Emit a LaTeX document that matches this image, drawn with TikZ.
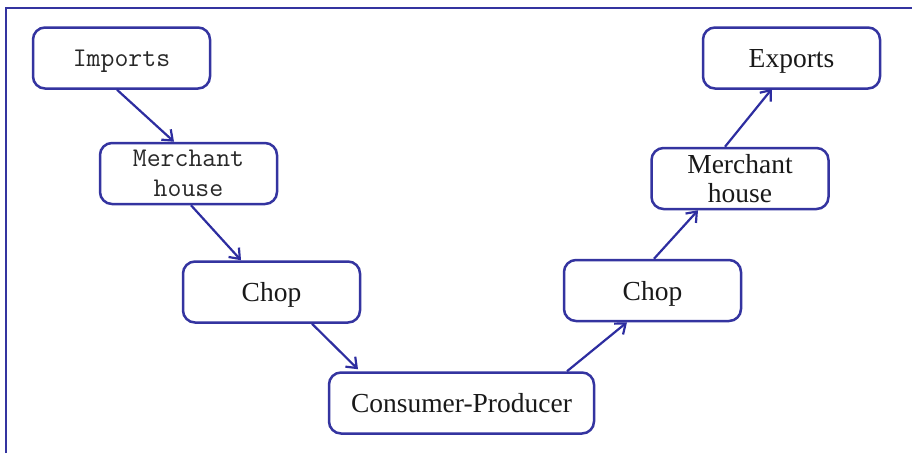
\documentclass[tikz,border=0pt]{standalone}
\usepackage{fontspec}
\setmainfont{Liberation Serif}
\usetikzlibrary{arrows.meta}
\definecolor{boxblue}{RGB}{52,52,160}
\definecolor{arrblue}{RGB}{45,45,160}
\definecolor{txt}{RGB}{25,25,25}
\definecolor{monotxt}{RGB}{40,40,40}
\tikzset{
  stage/.style={draw=boxblue, line width=2.5pt, rounded corners=12pt, fill=white,
    minimum width=177pt, minimum height=61pt, inner sep=0pt, align=center,
    text=txt, font=\fontsize{27.5}{29}\selectfont},
  single/.style={text depth=0pt},
  monostage/.style={stage, text=monotxt, font=\ttfamily\fontsize{27}{30}\selectfont},
  flow/.style={draw=arrblue, line width=2.2pt, -{Straight Barb[length=9pt,width=14pt,line width=2.2pt]}},
  frameline/.style={draw=boxblue, line width=2.8pt}
}
\begin{document}
\begin{tikzpicture}[x=1pt,y=-1pt]
\useasboundingbox (0,0) rectangle (912,453);
\fill[white] (0,0) rectangle (912,453);
\draw[frameline] (6,453) -- (6,8) -- (912,8);
\node[monostage, single] (imp) at (121.5,58) {Imports};
\node[monostage] (mh1) at (188.5,173.5) {Merchant\\house};
\node[stage, single] (ch1) at (271.5,292) {Chop};
\node[stage, single, minimum width=265pt] (cp) at (461.5,403) {Consumer-Producer};
\node[stage, single] (ch2) at (652.5,290.5) {Chop};
\node[stage] (mh2) at (740,178.5) {Merchant\\house};
\node[stage, single] (exp) at (791.5,58) {Exports};
\draw[flow] ([xshift=-4.5pt]imp.south) -- ([xshift=-14.5pt]mh1.north);
\draw[flow] ([xshift=2.5pt]mh1.south) -- ([xshift=-30.5pt]ch1.north);
\draw[flow] ([xshift=40.5pt]ch1.south) -- ([xshift=-103.5pt,yshift=2pt]cp.north);
\draw[flow] ([xshift=105.5pt]cp.north) -- ([xshift=-25.5pt]ch2.south);
\draw[flow] ([xshift=1.5pt]ch2.north) -- ([xshift=-42pt]mh2.south);
\draw[flow] ([xshift=-15pt]mh2.north) -- ([xshift=-19.5pt,yshift=1pt]exp.south);
\end{tikzpicture}
\end{document}
